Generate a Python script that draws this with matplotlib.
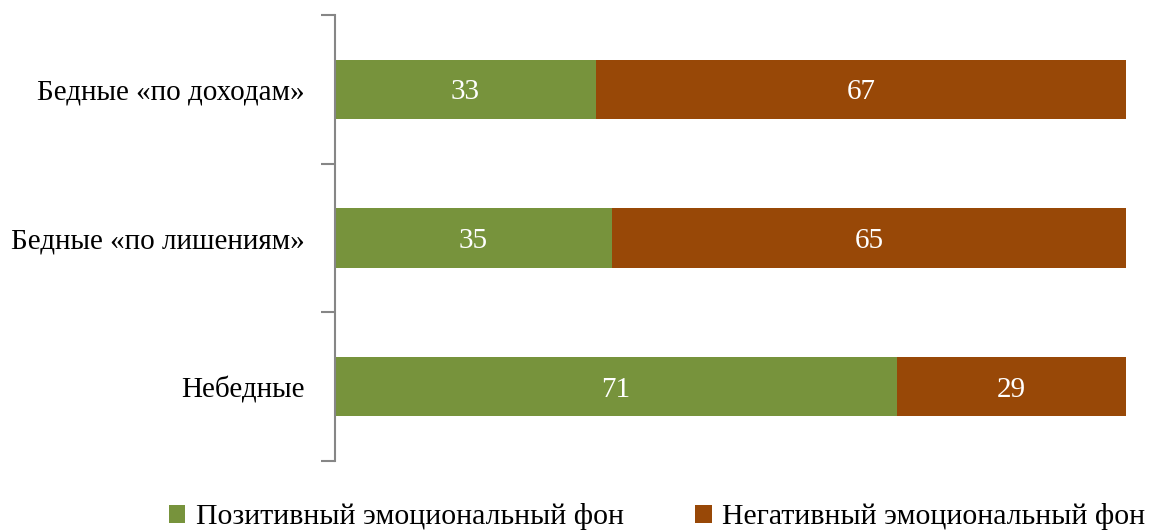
import matplotlib.pyplot as plt
import numpy as np

plt.rcParams['font.family'] = ['Liberation Serif', 'DejaVu Serif']

categories = ['Бедные «по доходам»', 'Бедные «по лишениям»', 'Небедные']
positive = [33, 35, 71]
negative = [67, 65, 29]
series_names = ['Позитивный эмоциональный фон', 'Негативный эмоциональный фон']
colors = ['#77933C', '#984807']

fig = plt.figure(figsize=(11.49, 5.31), dpi=100)
ax = fig.add_axes([335 / 1149, 70 / 531, 791 / 1149, 446 / 531])

ypos = np.arange(len(categories))[::-1]
b1 = ax.barh(ypos, positive, height=0.4, color=colors[0], label=series_names[0])
b2 = ax.barh(ypos, negative, left=positive, height=0.4, color=colors[1], label=series_names[1])

# подписи значений внутри сегментов
for vals, lefts in [(positive, [0] * 3), (negative, positive)]:
    for y, v, l in zip(ypos, vals, lefts):
        ax.text(l + v / 2, y, str(v), ha='center', va='center_baseline',
                color='white', fontsize=21)

ax.set_xlim(0, 100)
ax.set_ylim(-0.5, 2.5)
ax.set_yticks(ypos)
ax.set_yticklabels(categories, fontsize=21)
ax.set_yticks(np.arange(-0.5, 3.0, 1.0), minor=True)
ax.tick_params(axis='y', which='major', length=0, pad=22)
ax.tick_params(axis='y', which='minor', length=10, width=1.5, color='#868686')
ax.set_xticks([])
for s in ['top', 'right', 'bottom']:
    ax.spines[s].set_visible(False)
ax.spines['left'].set_color('#868686')
ax.spines['left'].set_linewidth(1.5)

fig.legend(handles=[b1, b2], loc='center', bbox_to_anchor=(0.572, 0.027), ncol=2,
           frameon=False, fontsize=21.5, handlelength=0.55, handleheight=0.55,
           handletextpad=0.35, columnspacing=2.4, borderpad=0)

fig.savefig('out.png', dpi=100)
